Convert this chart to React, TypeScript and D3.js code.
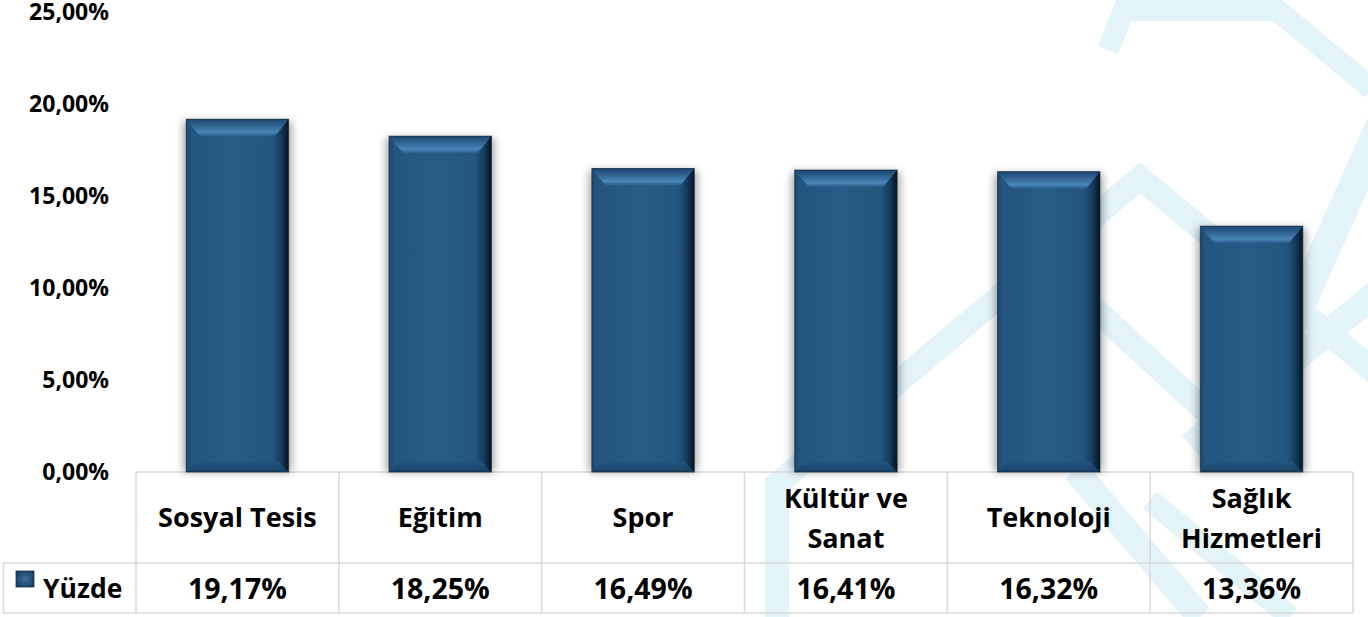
import React from "react";
import * as d3 from "d3";

const categories = ["Sosyal Tesis", "Eğitim", "Spor", "Kültür ve\nSanat", "Teknoloji", "Sağlık\nHizmetleri"];
const values = [19.17, 18.25, 16.49, 16.41, 16.32, 13.36];
const yTicks = [0, 5, 10, 15, 20, 25];
const seriesName = "Yüzde";

const W = 1368;
const H = 617;
const FONT = "'Open Sans', 'Noto Sans', sans-serif";

// faint background watermark bands
const watermark: { pts: [number, number][]; w: number }[] = [
  { pts: [[1108, 50], [1124, 10], [1277, 10], [1372, 89]], w: 22 },
  { pts: [[1392, 100], [1280, 350]], w: 30 },
  { pts: [[777, 630], [777, 484], [1140, 178], [1380, 376]], w: 24 },
  { pts: [[1380, 290], [1190, 445]], w: 26 },
  { pts: [[1085, 300], [1215, 420]], w: 24 },
  { pts: [[1075, 470], [1200, 617]], w: 26 },
  { pts: [[1150, 500], [1290, 617]], w: 22 },
];

const fmt = (v: number) => v.toFixed(2).replace(".", ",") + "%";

export default function App() {
  const y = d3.scaleLinear().domain([0, 25]).range([472, 12]);
  const cols = d3.scaleBand<string>().domain(categories).range([136, 1353]).padding(0);
  const bars = d3
    .scaleBand<string>()
    .domain(categories)
    .range([136, 1353])
    .paddingInner(0.495)
    .paddingOuter(0.2475);
  const line = d3.line<[number, number]>();
  const tableTop = y(0);
  const rowMid = 563;
  const tableBottom = 613;
  const gridColor = "#d9d9d9";

  return (
    <svg
      width={W}
      height={H}
      style={{ position: "absolute", left: 0, top: 0, background: "#fff" }}
      fontFamily={FONT}
    >
      <defs>
        <linearGradient id="body" x1="0" x2="1" y1="0" y2="0">
          <stop offset="0" stopColor="#1b4772" />
          <stop offset="0.05" stopColor="#22557f" />
          <stop offset="0.45" stopColor="#265c88" />
          <stop offset="0.84" stopColor="#23567f" />
          <stop offset="0.93" stopColor="#153a5c" />
          <stop offset="1" stopColor="#06121e" />
        </linearGradient>
        <linearGradient id="topBevel" x1="0" x2="0" y1="0" y2="1">
          <stop offset="0" stopColor="#1b4670" />
          <stop offset="0.55" stopColor="#3a72a3" />
          <stop offset="0.75" stopColor="#4a86b7" />
          <stop offset="1" stopColor="#275d8a" />
        </linearGradient>
        <linearGradient id="botBevel" x1="0" x2="0" y1="0" y2="1">
          <stop offset="0" stopColor="#22557f" />
          <stop offset="1" stopColor="#173f63" />
        </linearGradient>
        <linearGradient id="base" x1="0" x2="1" y1="0" y2="0">
          <stop offset="0" stopColor="#c9d5e0" stopOpacity="0" />
          <stop offset="0.15" stopColor="#a9bdcf" />
          <stop offset="0.85" stopColor="#a9bdcf" />
          <stop offset="1" stopColor="#c9d5e0" stopOpacity="0" />
        </linearGradient>
        <radialGradient id="legendSq" cx="0.5" cy="0.5" r="0.6">
          <stop offset="0" stopColor="#3c6f9c" />
          <stop offset="1" stopColor="#183d60" />
        </radialGradient>
        <filter id="shadow" x="-30%" y="-10%" width="160%" height="120%">
          <feGaussianBlur stdDeviation="4" />
        </filter>
      </defs>

      {/* watermark */}
      <g fill="none" stroke="#e3f4f8" strokeLinejoin="miter" strokeLinecap="butt">
        {watermark.map((b, i) => (
          <path key={i} d={line(b.pts) || ""} strokeWidth={b.w} />
        ))}
      </g>

      {/* table grid */}
      <g stroke={gridColor} strokeWidth={1.5}>
        <line x1={136} x2={1353} y1={tableTop} y2={tableTop} />
        <line x1={3.5} x2={1353} y1={rowMid} y2={rowMid} />
        <line x1={3.5} x2={1353} y1={tableBottom} y2={tableBottom} />
        <line x1={3.5} x2={3.5} y1={rowMid} y2={tableBottom} />
        {categories.map((c) => (
          <line key={c} x1={cols(c)!} x2={cols(c)!} y1={tableTop} y2={tableBottom} />
        ))}
        <line x1={1353} x2={1353} y1={tableTop} y2={tableBottom} />
      </g>

      {/* bars */}
      {categories.map((c, i) => {
        const x0 = bars(c)!;
        const bw = bars.bandwidth();
        const y0 = y(values[i]);
        const h = y(0) - y0;
        return (
          <g key={c}>
            <rect
              x={x0 - 3}
              y={y0 + 2}
              width={bw + 6}
              height={h - 2}
              fill="#000"
              opacity={0.35}
              filter="url(#shadow)"
            />
            <line
              x1={x0 - 14}
              x2={x0 + bw + 14}
              y1={y(0) - 0.5}
              y2={y(0) - 0.5}
              stroke="url(#base)"
              strokeWidth={2.5}
            />
            <rect x={x0} y={y0} width={bw} height={h} fill="url(#body)" />
            <path
              d={`M${x0},${y0}L${x0 + bw},${y0}L${x0 + bw - 14},${y0 + 17}L${x0 + 14},${y0 + 17}Z`}
              fill="url(#topBevel)"
            />
            <path
              d={`M${x0},${y0 + h}L${x0 + bw},${y0 + h}L${x0 + bw - 10},${y0 + h - 10}L${x0 + 10},${y0 + h - 10}Z`}
              fill="url(#botBevel)"
              opacity={0.9}
            />
            <rect
              x={x0}
              y={y0}
              width={bw}
              height={h}
              fill="none"
              stroke="#13283c"
              strokeWidth={1}
              strokeOpacity={0.7}
            />
          </g>
        );
      })}

      {/* y axis labels */}
      <g fontSize={23} fontWeight={700} fill="#000" textAnchor="end">
        {yTicks.map((t) => (
          <text key={t} x={109} y={y(t)} dy="0.36em">
            {fmt(t)}
          </text>
        ))}
      </g>

      {/* category labels */}
      <g fontSize={27} fontWeight={700} fill="#000" textAnchor="middle">
        {categories.map((c) => {
          const lines = c.split("\n");
          const cx = cols(c)! + cols.bandwidth() / 2;
          if (lines.length === 1) {
            return (
              <text key={c} x={cx} y={527}>
                {lines[0]}
              </text>
            );
          }
          return (
            <text key={c} x={cx} y={508}>
              {lines.map((l, k) => (
                <tspan key={k} x={cx} dy={k === 0 ? 0 : 40}>
                  {l}
                </tspan>
              ))}
            </text>
          );
        })}
      </g>

      {/* legend key */}
      <rect x={16} y={571} width={18} height={16} fill="url(#legendSq)" stroke="#132f4a" strokeWidth={0.8} />
      <text x={43} y={598} fontSize={26.5} fontWeight={700} fill="#000">
        {seriesName}
      </text>

      {/* values row */}
      <g fontSize={28.5} fontWeight={700} fill="#000" textAnchor="middle">
        {categories.map((c, i) => (
          <text key={c} x={cols(c)! + cols.bandwidth() / 2} y={599}>
            {fmt(values[i])}
          </text>
        ))}
      </g>
    </svg>
  );
}
